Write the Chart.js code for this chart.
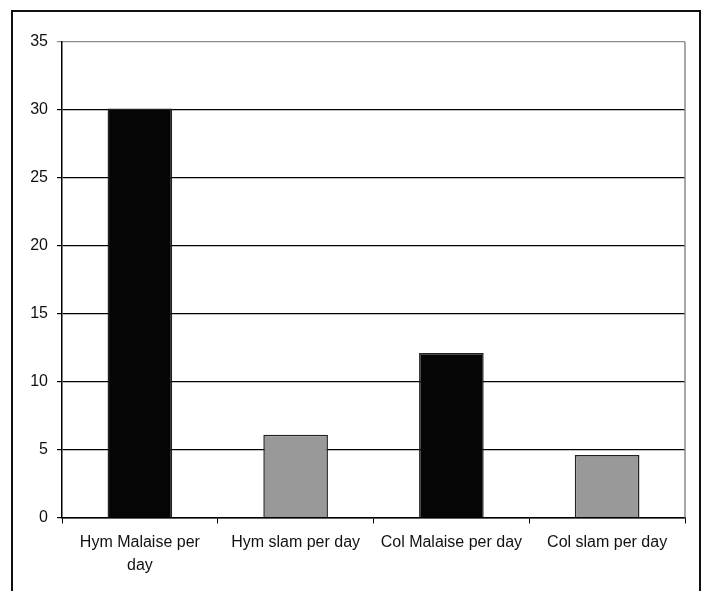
<!DOCTYPE html>
<html>
<head>
<meta charset="utf-8">
<script src="https://cdn.jsdelivr.net/npm/chart.js@4"></script>
<style>
  html, body { margin: 0; padding: 0; background: #fff; overflow: hidden; }
  #frame {
    position: absolute; left: 11px; top: 10px; width: 686px; height: 600px;
    border: 2px solid #111; box-sizing: content-box;
  }
  #wrap { position: absolute; left: 0; top: 0; width: 704px; height: 591px; }
</style>
</head>
<body>
<div id="frame"></div>
<div id="wrap"><canvas id="chart" width="704" height="591"></canvas></div>
<script>
// categories and values
const categories = [
  ["Hym Malaise per", "day"],
  "Hym slam per day",
  "Col Malaise per day",
  "Col slam per day",
];
const values = [30.1, 6.1, 12.1, 4.6];
const barColors = ["#050505", "#999999", "#050505", "#999999"];
const yTicks = [0, 5, 10, 15, 20, 25, 30, 35];

// grey right edge of the plot area
const plotEdge = {
  id: "plotEdge",
  afterDraw(chart) {
    const { ctx, chartArea } = chart;
    ctx.save();
    ctx.strokeStyle = "#8a8a8a";
    ctx.lineWidth = 1.5;
    ctx.beginPath();
    ctx.moveTo(chartArea.right, chartArea.top);
    ctx.lineTo(chartArea.right, chartArea.bottom);
    ctx.stroke();
    ctx.restore();
  },
};

new Chart(document.getElementById("chart"), {
  type: "bar",
  data: {
    labels: categories,
    datasets: [
      {
        data: values,
        backgroundColor: barColors,
        borderColor: "#222",
        borderWidth: 1.5,
        categoryPercentage: 1,
        barPercentage: 0.415,
      },
    ],
  },
  options: {
    responsive: false,
    animation: false,
    layout: { padding: { left: 12, top: 42, right: 19, bottom: 0 } },
    plugins: { legend: { display: false }, tooltip: { enabled: false } },
    scales: {
      x: {
        afterFit: (s) => { s.height = 73.5; },
        grid: {
          offset: true,
          drawOnChartArea: false,
          color: "#000",
          tickLength: 6,
        },
        border: { color: "#000", width: 1.5 },
        ticks: {
          color: "#111",
          padding: 7,
          maxRotation: 0,
          font: { family: "Liberation Sans, Arial", size: 16, lineHeight: 1.45 },
        },
      },
      y: {
        min: 0,
        max: 35,
        afterFit: (s) => { s.width = 50; },
        afterBuildTicks: (s) => { s.ticks = yTicks.map((v) => ({ value: v })); },
        grid: {
          color: (c) => (c.tick && c.tick.value === 35 ? "#8a8a8a" : "#000"),
          lineWidth: 1.2,
          tickLength: 5,
        },
        border: { color: "#000", width: 1.5 },
        ticks: {
          color: "#111",
          padding: 9,
          font: { family: "Liberation Sans, Arial", size: 16 },
        },
      },
    },
  },
  plugins: [plotEdge],
});
</script>
</body>
</html>
